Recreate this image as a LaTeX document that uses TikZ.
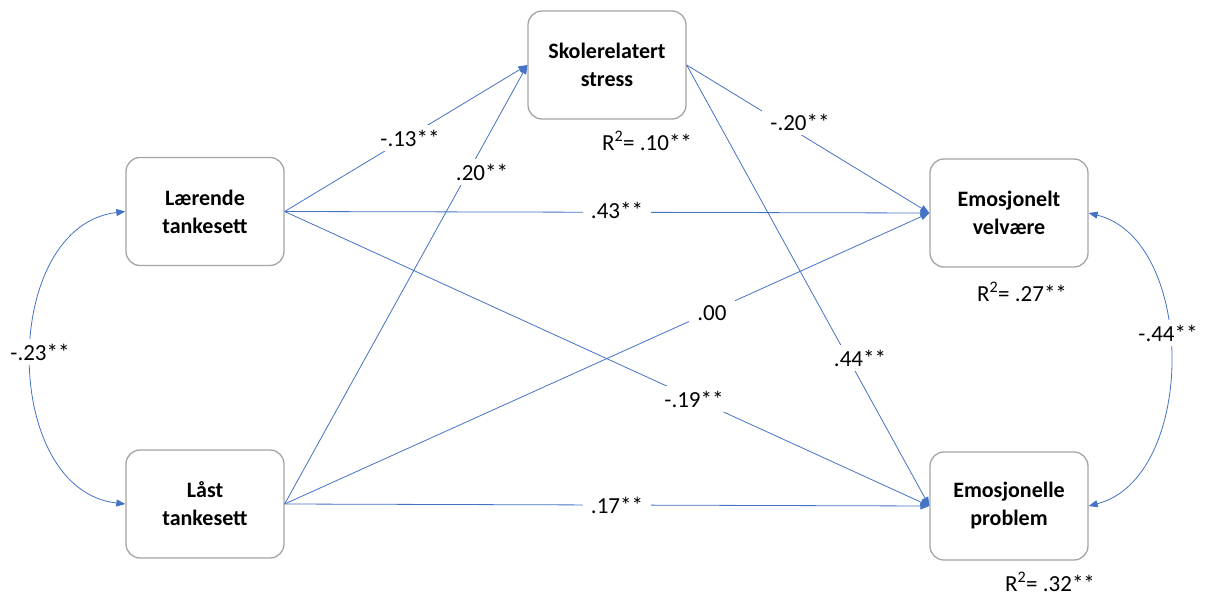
\documentclass[tikz,border=0pt]{standalone}
\usepackage{fontspec}
\setmainfont{Carlito}
\usetikzlibrary{arrows.meta}
\definecolor{lineblue}{RGB}{68,114,196}
\definecolor{boxgray}{RGB}{165,165,165}
\begin{document}
\begin{tikzpicture}[x=1pt,y=-1pt,
  box/.style={draw=boxgray, line width=1.3pt, rounded corners=14pt, fill=white,
    minimum width=158pt, minimum height=108pt, align=center,
    font=\fontsize{22}{28}\selectfont\bfseries},
  conn/.style={draw=lineblue, line width=0.8pt, -{Triangle[length=9pt,width=7pt]}},
  biconn/.style={draw=lineblue, line width=0.8pt, {Triangle[length=9pt,width=7pt]}-{Triangle[length=9pt,width=7pt]}},
  lbl/.style={fill=white, inner xsep=8pt, inner ysep=5pt, font=\fontsize{23}{28}\selectfont},
  rsq/.style={inner sep=0pt, font=\fontsize{23}{28}\selectfont}]
\useasboundingbox (0,0) rectangle (1211,596);
\node[box] (S) at (607,65) {Skolerelatert\\stress};
\node[box] (L) at (205,211.5) {Lærende\\tankesett};
\node[box] (Lo) at (205,504) {Låst\\tankesett};
\node[box] (V) at (1009,213) {Emosjonelt\\velvære};
\node[box] (P) at (1009,506) {Emosjonelle\\problem};

\draw[conn] (L.east) -- (S.west);
\draw[conn] (Lo.east) -- (S.west);
\draw[conn] (L.east) -- (V.west);
\draw[conn] (L.east) -- (P.west);
\draw[conn] (Lo.east) -- (V.west);
\draw[conn] (Lo.east) -- (P.west);
\draw[conn] (S.east) -- (V.west);
\draw[conn] (S.east) -- (P.west);
\draw[biconn] (L.west) .. controls (0,226) and (0,490) .. (Lo.west);
\draw[biconn] (V.east) .. controls (1197,240) and (1197,478) .. (P.east);

\node[lbl] (l1) at (410,138) {-.13**};
\node[lbl] (l2) at (482,172) {.20**};
\node[lbl] (l3) at (617,210) {.43**};
\node[lbl] (l4) at (712,313) {.00};
\node[lbl] (l5) at (694,399) {-.19**};
\node[lbl] (l6) at (800,122) {-.20**};
\node[lbl] (l7) at (860,358) {.44**};
\node[lbl] (l8) at (40,352) {-.23**};
\node[lbl] (l9) at (1168,333) {-.44**};
\node[lbl] (l10) at (617,505) {.17**};

\node[rsq] (r1) at (647,141) {R\textsuperscript{2}= .10**};
\node[rsq] (r2) at (1022,292) {R\textsuperscript{2}= .27**};
\node[rsq] (r3) at (1050,582) {R\textsuperscript{2}= .32**};
\end{tikzpicture}
\end{document}
